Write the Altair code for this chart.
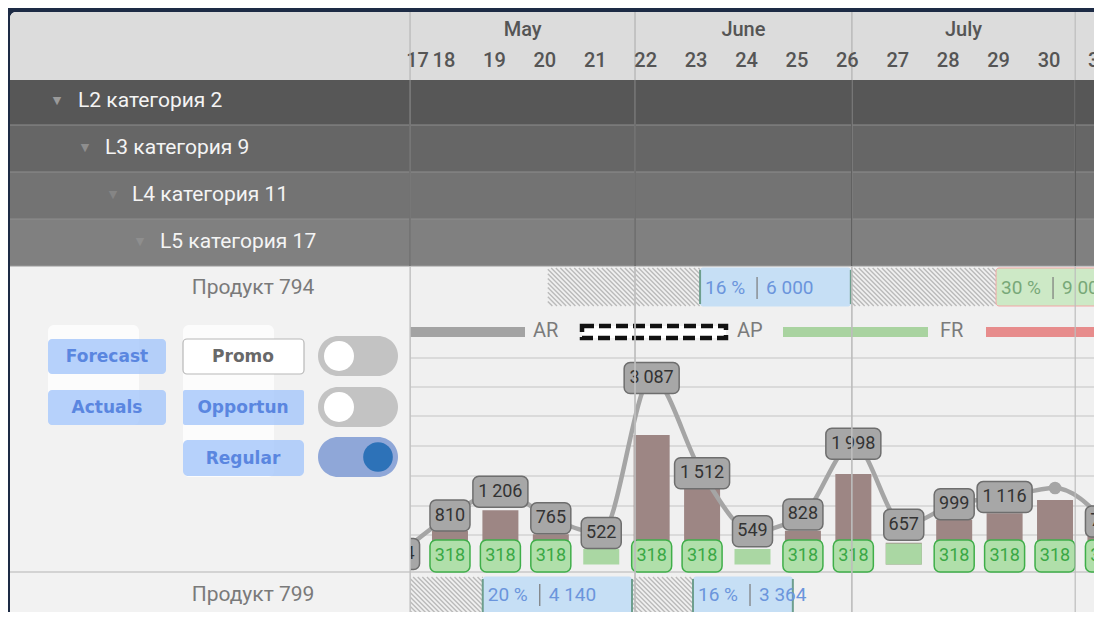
import altair as alt
import pandas as pd

# ---------------- data ----------------
weeks = list(range(17, 32))
forecast = [174, 810, 1206, 765, 522, 3087, 1512, 549, 828, 1998, 657, 999, 1116, 1266, 712]
forecast_shown = [1, 1, 1, 1, 1, 1, 1, 1, 1, 1, 1, 1, 1, 0, 1]
actuals = [0, 560, 900, 500, 0, 2144, 1250, 0, 560, 1498, 360, 740, 850, 1068, 600]
regular = [0, 318, 318, 318, 256, 318, 318, 256, 318, 318, 348, 318, 318, 318, 318]
regular_shown = [0, 1, 1, 1, 0, 1, 1, 0, 1, 1, 0, 1, 1, 1, 1]

months = ["May", "June", "July"]
month_start = [17.21, 21.67, 25.97]
month_end = [21.67, 25.97, 30.40]

categories = ["L2 категория 2", "L3 категория 9", "L4 категория 11", "L5 категория 17"]
products = ["Продукт 794", "Продукт 799"]

promo_product = ["Продукт 794", "Продукт 794", "Продукт 799", "Продукт 799"]
promo_start = [22.96, 28.83, 18.65, 22.82]
promo_end = [25.95, 31.60, 21.61, 24.80]
promo_pct = ["16 %", "30 %", "20 %", "16 %"]
promo_volume = ["6 000", "9 000", "4 140", "3 364"]
promo_kind = ["Opportun", "Promo", "Opportun", "Opportun"]

gap_product = ["Продукт 794", "Продукт 794", "Продукт 799", "Продукт 799"]
gap_start = [19.94, 25.95, 16.40, 21.61]
gap_end = [22.96, 28.83, 18.65, 22.82]

legend_labels = ["AR", "AP", "FR"]
buttons_left = ["Forecast", "Actuals"]
buttons_right = ["Promo", "Opportun", "Regular"]

# ---------------- tables ----------------
series = pd.DataFrame({"week": weeks, "forecast": forecast, "fshow": forecast_shown,
                       "actual": actuals, "regular": regular, "rshow": regular_shown})
month_df = pd.DataFrame({"month": months, "s": month_start, "e": month_end})
promo_df = pd.DataFrame({"product": promo_product, "s": promo_start, "e": promo_end,
                         "pct": promo_pct, "vol": promo_volume, "kind": promo_kind})
gap_df = pd.DataFrame({"product": gap_product, "s": gap_start, "e": gap_end})

# ---------------- scales (page pixel layout + data scales) ----------------
W, H = 1086, 604
X0, Y0 = 8, 8
PXX = alt.Scale(domain=[X0, X0 + W], nice=False, zero=False)
PXY = alt.Scale(domain=[Y0, Y0 + H], reverse=True, nice=False, zero=False)
WK_DOM = [9.234, 30.773]
WK = alt.Scale(domain=WK_DOM, nice=False, zero=False)
PXW = W / (WK_DOM[1] - WK_DOM[0])
VAL = alt.Scale(domain=[-786.4, 9213.6], nice=False, zero=False)
FONT = "Roboto"

NONE = dict(axis=None)


def box(x0, x1, y0, y1, **mk):
    d = pd.DataFrame({"a": [x0], "b": [x1], "c": [y0], "d": [y1]})
    return alt.Chart(d).mark_rect(**mk).encode(
        x=alt.X("a:Q", scale=PXX, **NONE), x2="b:Q",
        y=alt.Y("c:Q", scale=PXY, **NONE), y2="d:Q")


def txt(x, y, s, **mk):
    d = pd.DataFrame({"a": [x], "c": [y], "t": [s]})
    base = dict(font=FONT, baseline="middle")
    base.update(mk)
    return alt.Chart(d).mark_text(**base).encode(
        x=alt.X("a:Q", scale=PXX, **NONE), y=alt.Y("c:Q", scale=PXY, **NONE), text="t:N")


def hline(x0, x1, y, **mk):
    d = pd.DataFrame({"a": [x0], "b": [x1], "c": [y]})
    return alt.Chart(d).mark_rule(**mk).encode(
        x=alt.X("a:Q", scale=PXX, **NONE), x2="b:Q", y=alt.Y("c:Q", scale=PXY, **NONE))


def vline(x, y0, y1, **mk):
    d = pd.DataFrame({"a": [x], "c": [y0], "d": [y1]})
    return alt.Chart(d).mark_rule(**mk).encode(
        x=alt.X("a:Q", scale=PXX, **NONE), y=alt.Y("c:Q", scale=PXY, **NONE), y2="d:Q")


def dot(x, y, size, **mk):
    d = pd.DataFrame({"a": [x], "c": [y]})
    return alt.Chart(d).mark_circle(size=size, opacity=1, **mk).encode(
        x=alt.X("a:Q", scale=PXX, **NONE), y=alt.Y("c:Q", scale=PXY, **NONE))


L = []

# panel and header
L.append(box(10, 1100, 12, 620, color="#f0f0f0", cornerRadius=6))
L.append(box(10, 1100, 12, 80, color="#dcdcdc", cornerRadiusTopLeft=6))

# hierarchy rows
row_df = pd.DataFrame({"cat": categories, "top": [80, 125, 172, 219], "bot": [125, 172, 219, 266],
                       "tx": [78, 105, 132, 160], "ax": [57, 85, 113, 140],
                       "ty": [101, 148, 195, 242]})
row_colors = ["#575757", "#666666", "#737373", "#808080"]
L.append(alt.Chart(row_df).mark_rect().encode(
    x=alt.value(2), x2=alt.value(W),
    y=alt.Y("top:Q", scale=PXY, **NONE), y2="bot:Q",
    color=alt.Color("cat:N", scale=alt.Scale(domain=categories, range=row_colors), legend=None)))
for yy in [125, 172, 219]:
    L.append(hline(10, 1100, yy, color="#8e8e8e", strokeWidth=1))
L.append(hline(10, 1100, 266, color="#9a9a9a", strokeWidth=1))

# chart grid lines of product 794 row
for yy in [358, 387, 416, 446, 476, 506, 535]:
    L.append(hline(410, 1100, yy, color="#d3d3d3", strokeWidth=1.6))
L.append(hline(10, 1100, 572, color="#c8c8c8", strokeWidth=1.5))

# ---- hatched gaps between promos ----
def hatch(prod, top, bot):
    hw = (bot - top) / PXW
    dw = 4.6 / PXW
    return (alt.Chart(gap_df).transform_filter(alt.datum.product == prod)
            .transform_calculate(k=f"sequence(0, ceil((datum.e - datum.s + {hw}) / {dw}) + 1)")
            .transform_flatten(["k"])
            .transform_calculate(xt=f"datum.s - {hw} + datum.k * {dw}")
            .transform_calculate(xa="max(datum.xt, datum.s)")
            .transform_calculate(xb=f"min(datum.xt + {hw}, datum.e)")
            .transform_filter("datum.xa < datum.xb")
            .transform_calculate(ya=f"{top} + (datum.xa - datum.xt) / {hw} * {bot - top}")
            .transform_calculate(yb=f"{top} + (datum.xb - datum.xt) / {hw} * {bot - top}")
            .mark_rule(color="#bababa", strokeWidth=1.4)
            .encode(x=alt.X("xa:Q", scale=WK, **NONE), x2="xb:Q",
                    y=alt.Y("ya:Q", scale=PXY, **NONE), y2="yb:Q"))


KINDS = ["Opportun", "Promo"]


def promo_layers(prod, top, bot, mid):
    base = alt.Chart(promo_df).transform_filter(alt.datum.product == prod)
    out = []
    out.append(hatch(prod, top, bot))
    out.append(base.mark_rect(cornerRadius=3, strokeWidth=1).encode(
        x=alt.X("s:Q", scale=WK, **NONE), x2="e:Q",
        y=alt.value(top - Y0), y2=alt.value(bot - Y0),
        fill=alt.Fill("kind:N", scale=alt.Scale(domain=KINDS, range=["#c6dff5", "#cde9c6"]),
                      legend=None),
        stroke=alt.Stroke("kind:N", scale=alt.Scale(domain=KINDS, range=["#c6dff5", "#f2a5a5"]),
                          legend=None)))
    blue = base.transform_filter(alt.datum.kind == "Opportun")
    out.append(blue.mark_rule(color="#6e9f8e", strokeWidth=2).encode(
        x=alt.X("s:Q", scale=WK, **NONE), y=alt.value(top - Y0 + 2), y2=alt.value(bot - Y0 - 2)))
    out.append(blue.mark_rule(color="#6e9f8e", strokeWidth=2).encode(
        x=alt.X("e:Q", scale=WK, **NONE), y=alt.value(top - Y0 + 2), y2=alt.value(bot - Y0 - 2)))
    tcol = alt.Color("kind:N", scale=alt.Scale(domain=KINDS, range=["#6b95dc", "#78a878"]),
                     legend=None)
    out.append(base.mark_text(align="left", baseline="middle", dx=5, font=FONT, fontSize=19).encode(
        x=alt.X("s:Q", scale=WK, **NONE), y=alt.value(mid - Y0), text="pct:N", color=tcol))
    out.append(base.mark_rule(color="#7a7a7a", strokeWidth=1.2, xOffset=57).encode(
        x=alt.X("s:Q", scale=WK, **NONE), y=alt.value(mid - Y0 - 11), y2=alt.value(mid - Y0 + 11)))
    out.append(base.mark_text(align="left", baseline="middle", dx=66, font=FONT, fontSize=19).encode(
        x=alt.X("s:Q", scale=WK, **NONE), y=alt.value(mid - Y0), text="vol:N", color=tcol))
    return out


L += promo_layers(products[0], 268, 306, 288)
L += promo_layers(products[1], 577, 616, 595)

# ---- legend row ----
L.append(box(410, 525, 327, 337, color="#a3a3a3"))
L.append(txt(533, 331, legend_labels[0], align="left", fontSize=20, color="#7b7b7b"))
L.append(box(582, 726, 326, 338, fill="white", stroke="#111111", strokeWidth=4.5,
             strokeDash=[12, 5]))
L.append(txt(737, 331, legend_labels[1], align="left", fontSize=20, color="#7b7b7b"))
L.append(box(783, 928, 327, 337, color="#a9d3a0"))
L.append(txt(940, 331, legend_labels[2], align="left", fontSize=20, color="#7b7b7b"))
L.append(box(986, 1100, 327, 337, color="#e78c8c"))

# ---- bars / line / labels ----
s = alt.Chart(series)
XW = alt.X("week:Q", scale=WK, **NONE)
L.append(s.mark_rect(xOffset=-18, x2Offset=18, color="#9d8684").encode(
    x=XW, x2="week:Q", y=alt.Y("actual:Q", scale=VAL, **NONE), y2=alt.datum(0)))
L.append(s.mark_rect(xOffset=-18, x2Offset=18, color="#aad7a3").encode(
    x=XW, x2="week:Q", y=alt.Y("regular:Q", scale=VAL, **NONE), y2=alt.datum(0)))
L.append(s.mark_line(interpolate="monotone", color="#a5a5a5", strokeWidth=4.5).encode(
    x=XW, y=alt.Y("forecast:Q", scale=VAL, **NONE)))
L.append(s.transform_filter("datum.fshow == 0").mark_circle(size=160, color="#a5a5a5", opacity=1).encode(
    x=XW, y=alt.Y("forecast:Q", scale=VAL, **NONE)))

lab = s.transform_filter("datum.fshow == 1").transform_calculate(
    lbl="replace(format(datum.forecast, ','), ',', '\u2009')")
for cond, half in [("length(datum.lbl) <= 3", 20), ("length(datum.lbl) > 3", 27.5)]:
    L.append(lab.transform_filter(cond).mark_rect(
        xOffset=-half, x2Offset=half, yOffset=-15.5, y2Offset=15.5,
        cornerRadius=6, color="#a7a7a7", stroke="#6e6e6e", strokeWidth=1.5).encode(
        x=XW, x2="week:Q", y=alt.Y("forecast:Q", scale=VAL, **NONE), y2="forecast:Q"))
L.append(lab.mark_text(font=FONT, fontSize=18, color="#333333", baseline="middle").encode(
    x=XW, y=alt.Y("forecast:Q", scale=VAL, **NONE), text="lbl:N"))

glab = s.transform_filter("datum.rshow == 1")
L.append(glab.mark_rect(xOffset=-20, x2Offset=20, cornerRadius=6, color="#b0dfaa",
                        stroke="#3fae49", strokeWidth=1.5).encode(
    x=XW, x2="week:Q", y=alt.value(540 - Y0), y2=alt.value(572 - Y0)))
L.append(glab.mark_text(font=FONT, fontSize=18, color="#3aa845", baseline="middle").encode(
    x=XW, y=alt.value(556 - Y0), text="regular:Q"))

# ---- month boundaries ----
mb = alt.Chart(month_df)
L.append(mb.mark_rule(color="#bdbdbd", strokeWidth=1.2).encode(
    x=alt.X("s:Q", scale=WK, **NONE), y=alt.value(12 - Y0), y2=alt.value(H)))
L.append(mb.mark_rule(color="#bdbdbd", strokeWidth=1.2).encode(
    x=alt.X("e:Q", scale=WK, **NONE), y=alt.value(12 - Y0), y2=alt.value(H)))
L.append(mb.mark_rule(color="#474747", strokeWidth=1.2).encode(
    x=alt.X("e:Q", scale=WK, **NONE), y=alt.value(80 - Y0), y2=alt.value(266 - Y0)))
L.append(mb.transform_calculate(mid="(datum.s + datum.e) / 2").mark_text(
    font=FONT, fontSize=20, fontWeight=500, color="#555555", baseline="middle").encode(
    x=alt.X("mid:Q", scale=WK, **NONE), y=alt.value(30 - Y0), text="month:N"))
L.append(s.transform_filter("datum.week > 17").mark_text(
    font=FONT, fontSize=20, fontWeight=500, color="#555555", baseline="middle", dx=-6).encode(
    x=XW, y=alt.value(61 - Y0), text="week:N"))
L.append(s.transform_filter("datum.week == 17").mark_text(
    font=FONT, fontSize=20, fontWeight=500, color="#555555", baseline="middle", dx=18).encode(
    x=XW, y=alt.value(61 - Y0), text="week:N"))

# ---- left panel ----
L.append(box(10, 410, 267, 620, color="#f2f2f2"))
L.append(hline(10, 410, 572, color="#c8c8c8", strokeWidth=1.5))
L.append(vline(410, 12, 620, color="#c4c4c4", strokeWidth=1.2))
L.append(vline(410, 80, 266, color="#4a4a4a", strokeWidth=1.2))

L.append(alt.Chart(row_df).mark_text(font=FONT, fontSize=21, color="#f4f4f4", align="left",
                                     baseline="middle").encode(
    x=alt.X("tx:Q", scale=PXX, **NONE), y=alt.Y("ty:Q", scale=PXY, **NONE), text="cat:N"))
L.append(alt.Chart(row_df).mark_text(font="DejaVu Sans", fontSize=11, align="center",
                                     baseline="middle").encode(
    x=alt.X("ax:Q", scale=PXX, **NONE), y=alt.Y("ty:Q", scale=PXY, **NONE),
    text=alt.value("▼"),
    color=alt.Color("cat:N", scale=alt.Scale(domain=categories,
                                              range=["#9a9a9a", "#8e8e8e", "#858585", "#8e8e8e"]),
                    legend=None)))

L.append(txt(253, 288, products[0], fontSize=21, color="#7a7a7a"))
L.append(txt(253, 595, products[1], fontSize=21, color="#7a7a7a"))

# control buttons
L.append(box(48, 139, 325, 425, color="#ffffff", opacity=0.75, cornerRadius=6))
L.append(box(183, 274, 325, 477, color="#ffffff", opacity=0.75, cornerRadius=6))
L.append(box(48, 166, 339, 374, color="#a9c9fa", opacity=0.85, cornerRadius=4))
L.append(box(48, 166, 390, 425, color="#a9c9fa", opacity=0.85, cornerRadius=4))
L.append(box(183, 304, 339, 374, color="#ffffff", stroke="#b8b8b8", strokeWidth=1.2, cornerRadius=4))
L.append(box(183, 304, 390, 425, color="#a9c9fa", opacity=0.85, cornerRadius=2))
L.append(box(183, 304, 440, 476, color="#a9c9fa", opacity=0.85, cornerRadius=5))
btn = dict(fontSize=17, fontWeight="bold", font="DejaVu Sans")
L.append(txt(107, 357, buttons_left[0], color="#5a86e0", **btn))
L.append(txt(107, 408, buttons_left[1], color="#5a86e0", **btn))
L.append(txt(243, 357, buttons_right[0], color="#686868", **btn))
L.append(txt(243, 408, buttons_right[1], color="#5a86e0", **btn))
L.append(txt(243, 459, buttons_right[2], color="#5a86e0", **btn))

# toggles
L.append(box(318, 398, 336, 376, color="#c3c3c3", cornerRadius=20))
L.append(box(318, 398, 387, 427, color="#c3c3c3", cornerRadius=20))
L.append(box(318, 398, 437, 477, color="#8fa7d8", cornerRadius=20))
L.append(dot(339, 356, 900, color="#ffffff"))
L.append(dot(339, 407, 900, color="#ffffff"))
L.append(dot(378, 457, 880, color="#2d72b8"))

chart = (alt.layer(*L)
         .resolve_scale(x="independent", y="independent", color="independent",
                        fill="independent", stroke="independent")
         .properties(width=W, height=H, padding=0, background="#1d2b45",
                     autosize=alt.AutoSizeParams(type="none"))
         .configure_view(strokeWidth=0))

chart.save("out.html", embed_options={"renderer": "svg", "actions": False})
